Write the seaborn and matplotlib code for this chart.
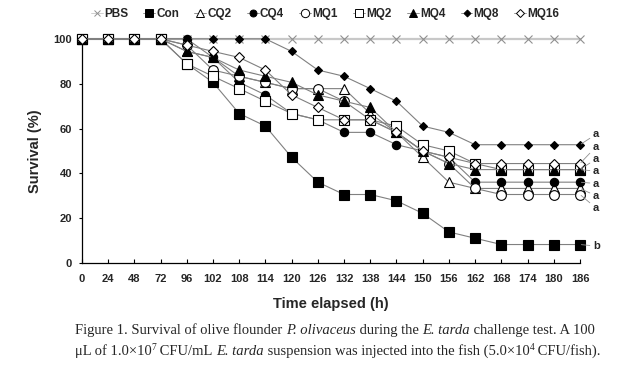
#survival curves, E. tarda challenge test
import numpy as np
import pandas as pd
import seaborn as sns
import matplotlib.pyplot as plt
from matplotlib.lines import Line2D
from matplotlib.transforms import offset_copy

sns.set_theme(style="white")
plt.rcParams['font.family'] = ['Liberation Sans', 'DejaVu Sans']

hours = [0, 24, 48, 72, 96, 102, 108, 114, 120, 126, 132, 138, 144, 150, 156, 162, 168, 174, 180, 186]

pbs = [100]*20
con = [100, 100, 100, 100, 88.9, 80.6, 66.7, 61.1, 47.2, 36.1, 30.6, 30.6, 27.8, 22.2, 13.9, 11.1, 8.3, 8.3, 8.3, 8.3]
cq2 = [100, 100, 100, 100, 94.4, 91.7, 83.3, 80.6, 77.8, 77.8, 77.8, 66.7, 58.3, 47.2, 36.1, 33.3, 33.3, 33.3, 33.3, 33.3]
cq4 = [100, 100, 100, 100, 100, 91.7, 80.6, 75.0, 66.7, 63.9, 58.3, 58.3, 52.8, 50.0, 47.2, 36.1, 36.1, 36.1, 36.1, 36.1]
mq1 = [100, 100, 100, 100, 97.2, 86.1, 83.3, 80.6, 77.8, 77.8, 72.2, 63.9, 58.3, 50.0, 44.4, 33.3, 30.6, 30.6, 30.6, 30.6]
mq2 = [100, 100, 100, 100, 88.9, 83.3, 77.8, 72.2, 66.7, 63.9, 63.9, 63.9, 61.1, 52.8, 50.0, 44.4, 41.7, 41.7, 41.7, 41.7]
mq4 = [100, 100, 100, 100, 94.4, 91.7, 86.1, 83.3, 80.6, 75.0, 72.2, 69.4, 58.3, 50.0, 44.4, 41.7, 41.7, 41.7, 41.7, 41.7]
mq8 = [100, 100, 100, 100, 100, 100, 100, 100, 94.4, 86.1, 83.3, 77.8, 72.2, 61.1, 58.3, 52.8, 52.8, 52.8, 52.8, 52.8]
mq16 = [100, 100, 100, 100, 97.2, 94.4, 91.7, 86.1, 75.0, 69.4, 63.9, 63.9, 58.3, 50.0, 47.2, 44.4, 44.4, 44.4, 44.4, 44.4]

groups = ["PBS", "Con", "CQ2", "CQ4", "MQ1", "MQ2", "MQ4", "MQ8", "MQ16"]
letters = ["", "b", "a", "a", "a", "a", "a", "a", "a"]
#where the significance letters sit (survival %)
letter_y = [None, 7.6, 30.0, 35.5, 24.5, 46.5, 41.0, 57.5, 52.0]

values = [pbs, con, cq2, cq4, mq1, mq2, mq4, mq8, mq16]
markers = ["x", "s", "^", "o", "o", "s", "^", "D", "D"]
fills = ["gray", "black", "white", "black", "white", "white", "black", "black", "white"]
sizes = [6, 6.5, 6.5, 6, 7, 7, 6.5, 4.5, 5]

df = pd.DataFrame({"pos": list(range(len(hours)))*len(groups),
                   "surv": sum(values, []),
                   "group": np.repeat(groups, len(hours))})

fig = plt.figure(figsize=(6.25, 3.77), dpi=100)
ax = fig.add_axes([0.131, 0.302, 0.797, 0.595])

handles = []
for g, m, fc, ms in zip(groups, markers, fills, sizes):
	sub = df[df["group"] == g]
	if g == "PBS":
		lc, lw, ec = "#c8c8c8", 1.6, "#909090"
	else:
		lc, lw, ec = "#808080", 0.8, "black"
	sns.lineplot(data=sub, x="pos", y="surv", ax=ax, color=lc, linewidth=lw,
				 marker=m, markersize=ms, markerfacecolor=fc, markeredgecolor=ec,
				 markeredgewidth=0.8, clip_on=False, zorder=3)
	handles.append(Line2D([], [], color=lc, linewidth=0.6, marker=m, markersize=ms-1,
						  markerfacecolor=fc, markeredgecolor=ec, markeredgewidth=0.7, label=g))

#significance letters with short leader lines
last = len(hours)-1
for g, v, lt, ly in zip(groups, values, letters, letter_y):
	if lt == "":
		continue
	ax.annotate(lt, xy=(last, v[-1]), xytext=(last+0.5, ly), fontsize=8, fontweight="bold",
				va="center", ha="left", annotation_clip=False,
				arrowprops=dict(arrowstyle="-", color="#909090", lw=0.6, shrinkA=0, shrinkB=1))

ax.set_xlim(0, last)
ax.set_ylim(0, 100)
ax.set_xticks(range(len(hours)))
ax.set_xticklabels([str(h) for h in hours])
ax.set_yticks([0, 20, 40, 60, 80, 100])
for lab in ax.get_xticklabels()+ax.get_yticklabels():
	lab.set_fontweight("bold")
	lab.set_fontsize(8)
ax.tick_params(axis="x", direction="in", length=3, width=0.8, color="black", pad=8)
ax.tick_params(axis="y", direction="out", length=2, width=0.8, color="black", pad=5)
ax.tick_params(bottom=True, left=True)
for s in ["top", "right"]:
	ax.spines[s].set_visible(False)
for s in ["left", "bottom"]:
	ax.spines[s].set_color("black")
	ax.spines[s].set_linewidth(0.9)

ax.set_xlabel("Time elapsed (h)", fontsize=10.5, fontweight="bold", labelpad=9)
ax.set_ylabel("Survival (%)", fontsize=10.5, fontweight="bold", labelpad=8)

fig.legend(handles=handles, loc="center", bbox_to_anchor=(0.52, 0.962), ncol=9, frameon=False,
		   handlelength=1.0, handletextpad=0.1, columnspacing=1.3, prop={"weight": "bold", "size": 8.5})

#caption: pieces of (text, style) laid one after another
cap1 = [("Figure 1. Survival of olive flounder ", "n"), ("P. olivaceus", "i"), (" during the ", "n"),
		("E. tarda", "i"), (" challenge test. A 100", "n")]
cap2 = [("μL of 1.0×10", "n"), ("7", "s"), (" CFU/mL ", "n"), ("E. tarda", "i"),
		(" suspension was injected into the fish (5.0×10", "n"), ("4", "s"), (" CFU/fish).", "n")]
capsize = 10.55

renderer = fig.canvas.get_renderer()
def draw_caption(pieces, x, y):
	dx = 0
	for txt, st in pieces:
		fs = capsize*0.65 if st == "s" else capsize
		dy = capsize*0.38 if st == "s" else 0
		tr = offset_copy(fig.transFigure, fig=fig, x=dx, y=dy, units="points")
		t = fig.text(x, y, txt, transform=tr, family="Liberation Serif", fontsize=fs,
					 style="italic" if st == "i" else "normal", va="baseline", ha="left")
		dx += t.get_window_extent(renderer).width*72/fig.dpi

draw_caption(cap1, 0.12, 0.115)
draw_caption(cap2, 0.12, 0.058)

fig.savefig("out.png", dpi=100)
